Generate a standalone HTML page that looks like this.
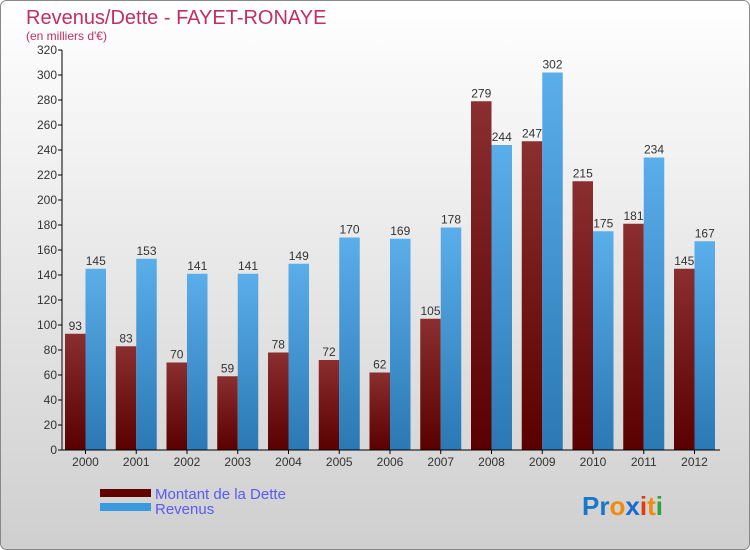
<!DOCTYPE html>
<html><head><meta charset="utf-8"><style>
body{margin:0;}
#c{width:750px;height:550px;position:relative;overflow:hidden;font-family:"Liberation Sans",sans-serif;}
</style></head><body>
<div id="c">
<svg id="s" width="750" height="550" xmlns="http://www.w3.org/2000/svg">
<defs>
<linearGradient id="bg" x1="0" y1="0" x2="0" y2="1"><stop offset="0" stop-color="#ffffff"/><stop offset="1" stop-color="#cfcfcf"/></linearGradient>
<linearGradient id="gd" x1="0" y1="0" x2="0" y2="1"><stop offset="0" stop-color="#8a2e30"/><stop offset="1" stop-color="#5a0000"/></linearGradient>
<linearGradient id="gr" x1="0" y1="0" x2="0" y2="1"><stop offset="0" stop-color="#5aaeea"/><stop offset="1" stop-color="#2a78b4"/></linearGradient>
</defs>
<rect x="0.5" y="0.5" width="749" height="549" rx="6" fill="url(#bg)" stroke="#888"/>
<text x="26" y="24" font-size="20" fill="#c0305f">Revenus/Dette - FAYET-RONAYE</text>
<text x="26" y="40" font-size="12" fill="#c0305f">(en milliers d'€)</text>
<g id="plot"></g>
<rect x="100" y="489" width="51" height="8" fill="#600000"/>
<rect x="100" y="503" width="51" height="8" fill="#3a9ae0"/>
<text x="155" y="499" font-size="15" fill="#5a5af0">Montant de la Dette</text>
<text x="155" y="514" font-size="15" fill="#5a5af0">Revenus</text>
<text x="582" y="515" font-size="26" font-weight="bold"><tspan fill="#1a78c8">Pr</tspan><tspan fill="#f08a10">o</tspan><tspan fill="#1a6ad0">x</tspan><tspan fill="#e03a10">i</tspan><tspan fill="#f08a10">t</tspan><tspan fill="#30a040">i</tspan></text>
</svg>
</div>
<script>
const years=["2000","2001","2002","2003","2004","2005","2006","2007","2008","2009","2010","2011","2012"];
const dette=[93,83,70,59,78,72,62,105,279,247,215,181,145];
const revenus=[145,153,141,141,149,170,169,178,244,302,175,234,167];
const yTicks=[0,20,40,60,80,100,120,140,160,180,200,220,240,260,280,300,320];
const NS="http://www.w3.org/2000/svg";
const g=document.getElementById('plot');
const y0=450,ppu=400/320,x0=62,step=50.75,bw=20.5;
const ys=v=>y0-v*ppu;
const xs=i=>x0+3+i*step;
function mk(t,a){const e=document.createElementNS(NS,t);for(const k in a)e.setAttribute(k,a[k]);g.appendChild(e);return e;}
yTicks.forEach(v=>{
  const l=mk('line',{x1:x0-4,x2:x0,y1:ys(v),y2:ys(v),stroke:'#000'});
  
  
  const t=mk('text',{x:x0-5,y:ys(v)+4,'font-size':12,fill:'#333','text-anchor':'end'});
  t.textContent=v;
  
  
});
years.forEach((yr,i)=>{
  const xd=xs(i),xr=xd+bw;
  const b1=mk('rect',{x:xd,y:ys(dette[i]),width:bw,height:dette[i]*ppu,fill:'url(#gd)'});
  
  
  const b2=mk('rect',{x:xr,y:ys(revenus[i]),width:bw,height:revenus[i]*ppu,fill:'url(#gr)'});
  
  
  const t1=mk('text',{x:xd+bw/2,y:ys(dette[i])-4,'font-size':12,fill:'#333','text-anchor':'middle'});
  t1.textContent=dette[i];
  
  
  const t2=mk('text',{x:xr+bw/2,y:ys(revenus[i])-4,'font-size':12,fill:'#333','text-anchor':'middle'});
  t2.textContent=revenus[i];
  
  
  const tk=mk('line',{x1:xr,x2:xr,y1:y0,y2:y0+4,stroke:'#000'});
  
  
  const tl=mk('text',{x:xr,y:y0+16,'font-size':12,fill:'#333','text-anchor':'middle'});
  tl.textContent=yr;
  
  
});
const ax=mk('line',{x1:x0,x2:x0,y1:ys(320),y2:y0,stroke:'#000'});


const axx=mk('line',{x1:x0,x2:720,y1:y0,y2:y0,stroke:'#000'});


</script>
</body></html>
